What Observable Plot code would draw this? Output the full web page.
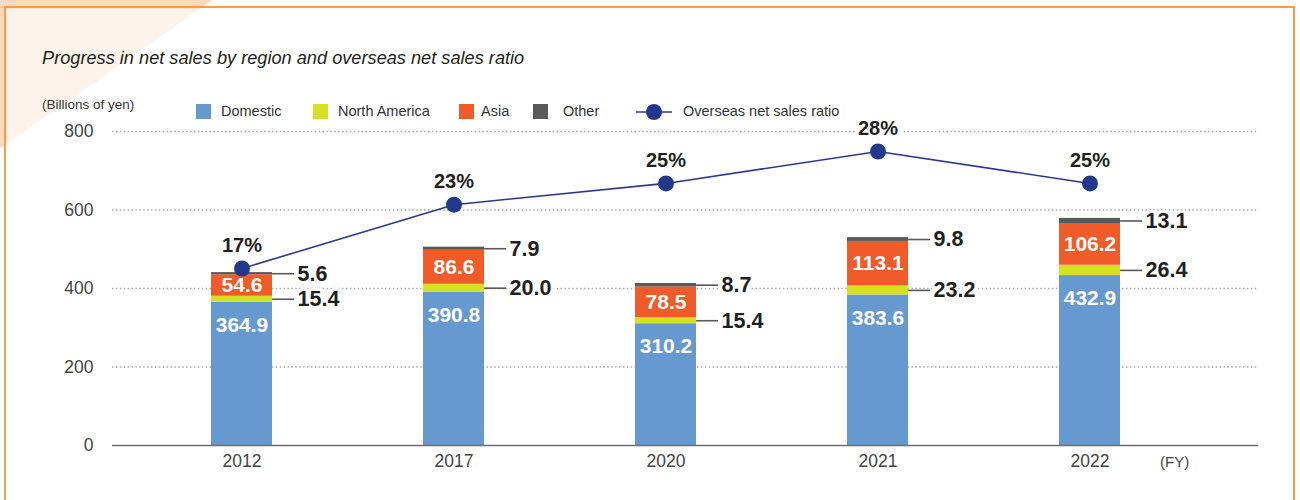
<!DOCTYPE html>
<html>
<head>
<meta charset="utf-8">
<script src="https://cdn.jsdelivr.net/npm/d3@7"></script>
<script src="https://cdn.jsdelivr.net/npm/@observablehq/plot@0.6"></script>
<style>
  html, body { margin: 0; padding: 0; background: #fff; }
  #page { position: relative; width: 1300px; height: 500px; overflow: hidden; font-family: "Liberation Sans", Arial, sans-serif; color: #231f20; }
  #deco { position: absolute; left: 0; top: 0; }
  #frame { position: absolute; left: 4px; top: 6px; width: 1291px; height: 520px; border: 2.5px solid #f79e4e; box-sizing: border-box; }
  #chart { position: absolute; left: 0; top: 0; }
  .title { position: absolute; left: 42px; top: 48px; font-size: 18.2px; font-style: italic; line-height: 20px; white-space: nowrap; }
  .unit { position: absolute; left: 42px; top: 97px; font-size: 13.5px; line-height: 16px; color: #333; white-space: nowrap; }
  .fy { position: absolute; left: 1160px; top: 453px; font-size: 15px; line-height: 18px; color: #444; }
  .lg { position: absolute; top: 102px; height: 18px; line-height: 18px; font-size: 14.5px; color: #333; white-space: nowrap; }
  .sw { position: absolute; top: 104px; width: 15px; height: 15px; }
  .lsw { position: absolute; top: 102px; }
</style>
</head>
<body>
<div id="page">
  <svg id="deco" width="1300" height="500">
    <polygon points="0,0 212,0 0,148" fill="#fdd9bb"></polygon>
    <polygon points="6.5,8.5 200,8.5 6.5,143.5" fill="#fef3ea"></polygon>
  </svg>
  <div id="frame"></div>
  <div id="chart"></div>
  <div class="title">Progress in net sales by region and overseas net sales ratio</div>
  <div class="unit">(Billions of yen)</div>
  <div id="legend"></div>
  <div class="fy">(FY)</div>
</div>
<script>
// ---- data ----
const years = ["2012", "2017", "2020", "2021", "2022"];
const regions = ["Domestic", "North America", "Asia", "Other"];
const domestic = [364.9, 390.8, 310.2, 383.6, 432.9];
const northAmerica = [15.4, 20.0, 15.4, 23.2, 26.4];
const asia = [54.6, 86.6, 78.5, 113.1, 106.2];
const other = [5.6, 7.9, 8.7, 9.8, 13.1];
const overseasRatio = [17, 23, 25, 28, 25];
const yTicks = [0, 200, 400, 600, 800];
const regionColors = ["#6699cf", "#d7df23", "#f15a29", "#58595b"];
const ratioLabel = "Overseas net sales ratio";

// ---- derived tables ----
const series = [domestic, northAmerica, asia, other];
const segments = [];
years.forEach((year, i) => {
  let base = 0;
  regions.forEach((region, k) => {
    const v = series[k][i];
    segments.push({year, region, value: v, y1: base, y2: base + v, mid: base + v / 2});
    base += v;
  });
});
// secondary (ratio) axis calibrated against the primary y axis
const ratioScale = d3.scaleLinear().domain([17, 28]).range([451, 749]);
const ratioRows = years.map((year, i) => ({year, pct: overseasRatio[i], ry: ratioScale(overseasRatio[i])}));

// ---- x band scale setup ----
const xRange = [135, 1197], padIn = 0.712, padOut = 0.36;
const bw = d3.scaleBand().domain(years).range(xRange).paddingInner(padIn).paddingOuter(padOut).bandwidth();

const dark = "#231f20";
const outside = segments.filter(d => d.region === "North America" || d.region === "Other");

const chart = Plot.plot({
  width: 1300,
  height: 500,
  marginTop: 131,
  marginBottom: 55,
  marginLeft: 112,
  marginRight: 42,
  style: {background: "transparent", fontFamily: "'Liberation Sans', Arial, sans-serif", fontSize: "17.5px", color: "#444"},
  x: {domain: years, range: xRange, paddingInner: padIn, paddingOuter: padOut, tickSize: 0, tickPadding: 9, label: null},
  y: {domain: [0, 800], ticks: yTicks, tickSize: 0, tickPadding: 19, label: null},
  color: {domain: regions, range: regionColors},
  marks: [
    Plot.ruleY(yTicks.filter(d => d > 0), {stroke: "#a7a9ac", strokeWidth: 1.3, strokeDasharray: "1.5,2.4"}),
    Plot.barY(segments, {x: "year", y1: "y1", y2: "y2", fill: "region"}),
    Plot.ruleY([0], {stroke: "#6d6e71", strokeWidth: 1.5}),
    Plot.tickY(outside, {x: "year", y: "mid", dx: bw, insetRight: bw - 22, stroke: "#58595b", strokeWidth: 1.6}),
    Plot.text(outside, {x: "year", y: "mid", text: d => d.value.toFixed(1), dx: bw / 2 + 25, textAnchor: "start",
      fontSize: 21.5, fontWeight: "bold", fill: dark, stroke: "white", strokeWidth: 6, paintOrder: "stroke"}),
    Plot.text(segments.filter(d => d.region === "Domestic"), {x: "year", y: "y2", dy: 23, text: d => d.value.toFixed(1),
      fontSize: 21, fontWeight: "bold", fill: "white"}),
    Plot.text(segments.filter(d => d.region === "Asia"), {x: "year", y: "mid", text: d => d.value.toFixed(1),
      fontSize: 21, fontWeight: "bold", fill: "white"}),
    Plot.line(ratioRows, {x: "year", y: "ry", stroke: "#2b3990", strokeWidth: 1.6}),
    Plot.dot(ratioRows, {x: "year", y: "ry", r: 8, fill: "#22388c"}),
    Plot.text(ratioRows, {x: "year", y: "ry", dy: -23, text: d => d.pct + "%", fontSize: 20, fontWeight: "bold",
      fill: dark, stroke: "white", strokeWidth: 8, paintOrder: "stroke"})
  ]
});
document.getElementById("chart").appendChild(chart);

// ---- legend (positioned items) ----
const page = document.getElementById("page");
const swatchX = [196, 313, 459, 533];
const textX = [221, 338, 481, 563];
regions.forEach((r, i) => {
  const sw = document.createElement("div");
  sw.className = "sw";
  sw.style.left = swatchX[i] + "px";
  sw.style.background = regionColors[i];
  page.appendChild(sw);
  const t = document.createElement("div");
  t.className = "lg";
  t.style.left = textX[i] + "px";
  t.textContent = r;
  page.appendChild(t);
});
const lsw = document.createElementNS("http://www.w3.org/2000/svg", "svg");
lsw.setAttribute("class", "lsw");
lsw.setAttribute("width", "38");
lsw.setAttribute("height", "20");
lsw.style.left = "635px";
lsw.innerHTML = `<line x1="1" x2="37" y1="10" y2="10" stroke="#2b3990" stroke-width="1.6"/><circle cx="19" cy="10" r="8" fill="#22388c"/>`;
page.appendChild(lsw);
const lt = document.createElement("div");
lt.className = "lg";
lt.style.left = "683px";
lt.textContent = ratioLabel;
page.appendChild(lt);
</script>
</body>
</html>
